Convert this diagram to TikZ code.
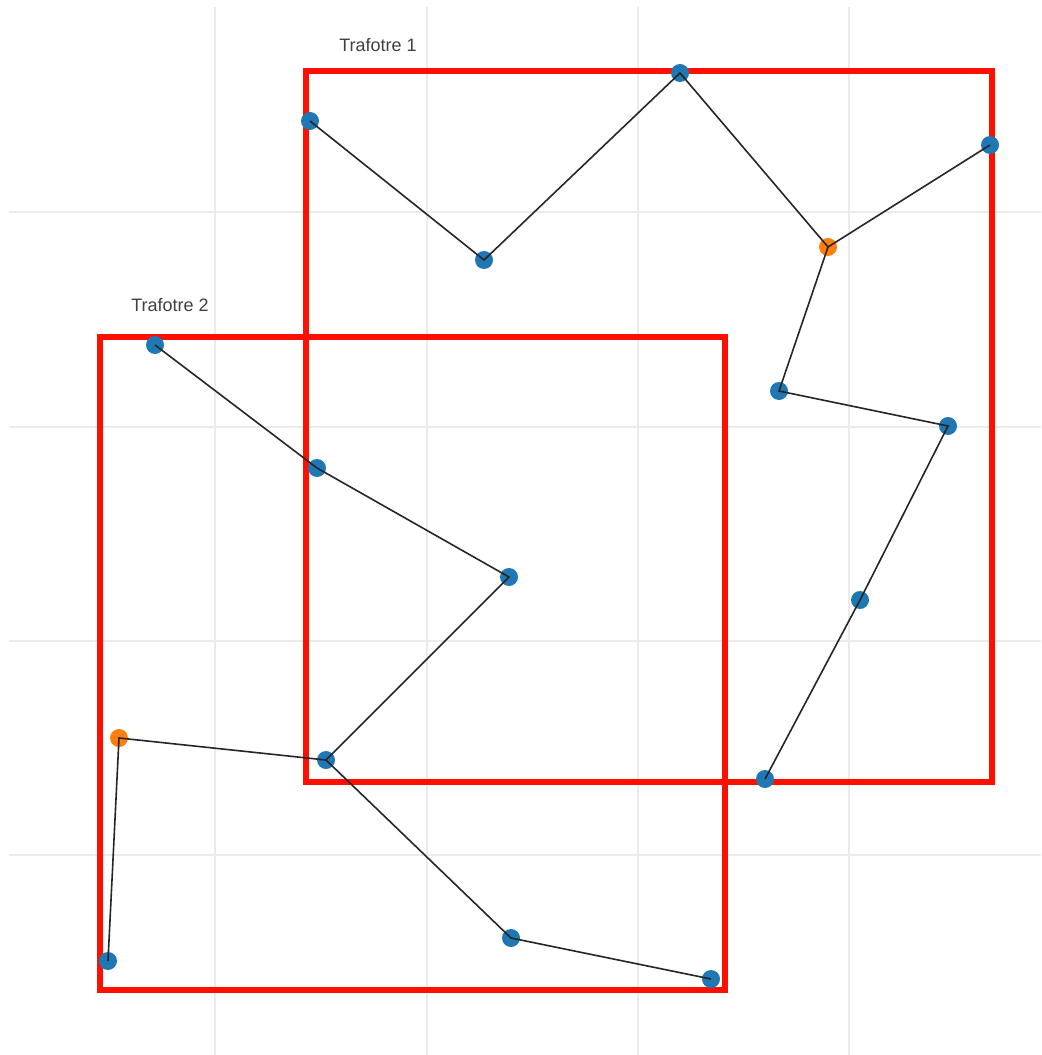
\documentclass[tikz,border=0pt]{standalone}
\usepackage{fontspec}
\setmainfont{Liberation Sans}
\begin{document}
\begin{tikzpicture}[x=0.75pt,y=-0.75pt,
  gridline/.style={draw=black!8,line width=0.9pt},
  trafo/.style={draw=red!88!orange,line width=4.4pt},
  pt/.style={circle,fill=blue1,inner sep=0pt,minimum size=13.5pt},
  opt/.style={circle,fill=orange1,inner sep=0pt,minimum size=13.5pt},
  edge/.style={draw=black!85,line width=1.2pt},
  lab/.style={text=black!75,font=\fontsize{13.5}{15}\selectfont}]
\definecolor{blue1}{HTML}{1F77B4}
\definecolor{orange1}{HTML}{FF7F0E}
\useasboundingbox[fill=white] (0,0) rectangle (1041,1055);
% grid
\foreach \gx in {215,427,638,849} \draw[gridline] (\gx,7) -- (\gx,1055);
\foreach \gy in {212,427,641,855} \draw[gridline] (9,\gy) -- (1041,\gy);
% transformers
\node[trafo,rectangle,minimum width=686*0.75pt,minimum height=711*0.75pt,anchor=north west,inner sep=0pt] (t1) at (303,68) {};
\node[trafo,rectangle,minimum width=625*0.75pt,minimum height=653*0.75pt,anchor=north west,inner sep=0pt] (t2) at (97,334) {};
\node[lab] (l1) at (378,45) {Trafotre 1};
\node[lab] (l2) at (170,305) {Trafotre 2};
% nodes
\node[pt] (a1) at (310,121) {};
\node[pt] (a2) at (484,260) {};
\node[pt] (a3) at (680,73) {};
\node[opt] (a4) at (828,247) {};
\node[pt] (a5) at (990,145) {};
\node[pt] (a6) at (779,391) {};
\node[pt] (a7) at (948,426) {};
\node[pt] (a8) at (860,600) {};
\node[pt] (a9) at (765,779) {};
\node[pt] (b1) at (155,345) {};
\node[pt] (b2) at (317,468) {};
\node[pt] (b3) at (509,577) {};
\node[pt] (b4) at (326,760) {};
\node[opt] (b5) at (119,738) {};
\node[pt] (b6) at (108,961) {};
\node[pt] (b7) at (511,938) {};
\node[pt] (b8) at (711,979) {};
% edges
\draw[edge] (a1.center) -- (a2.center) -- (a3.center) -- (a4.center) -- (a5.center);
\draw[edge] (a4.center) -- (a6.center) -- (a7.center) -- (a8.center) -- (a9.center);
\draw[edge] (b1.center) -- (b2.center) -- (b3.center) -- (b4.center) -- (b5.center) -- (b6.center);
\draw[edge] (b4.center) -- (b7.center) -- (b8.center);
\end{tikzpicture}
\end{document}
